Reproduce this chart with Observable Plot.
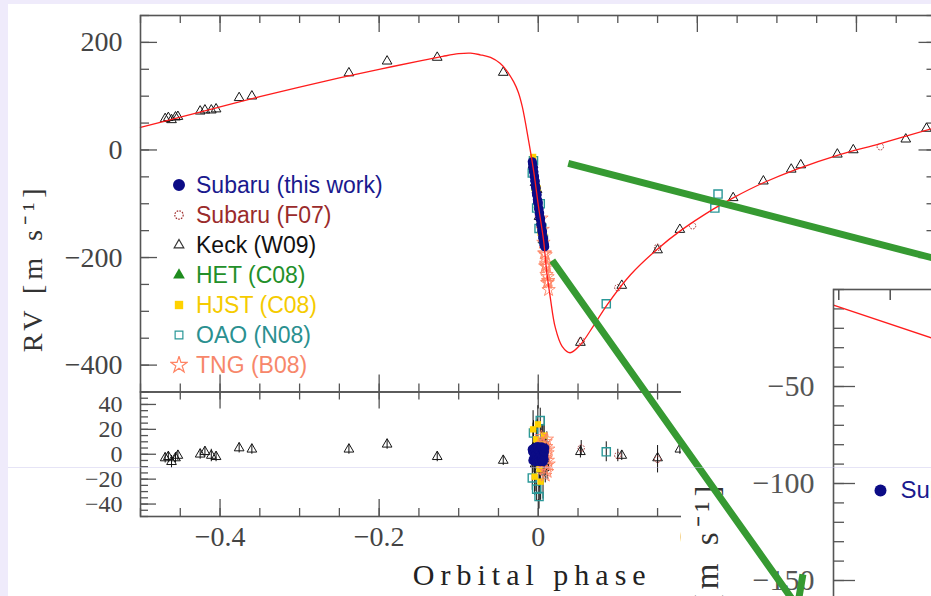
<!DOCTYPE html>
<html><head><meta charset="utf-8">
<script src="https://cdn.jsdelivr.net/npm/d3@7"></script>
<script src="https://cdn.jsdelivr.net/npm/@observablehq/plot@0.6"></script>
<style>
html,body{margin:0;padding:0;background:#efebfb;}
#stage{position:relative;width:931px;height:596px;overflow:hidden;background:#efebfb;}
#paper{position:absolute;left:8px;top:4px;right:0;bottom:0;background:#fff;}
.layer{position:absolute;left:0;top:0;}
#seam{position:absolute;left:8px;right:0;top:467px;height:1px;background:rgba(200,195,235,0.45);}
#legend{position:absolute;left:170px;top:170px;font-family:"Liberation Sans",Arial,sans-serif;font-size:23px;}
.row{height:30px;display:flex;align-items:center;white-space:nowrap;}
.row svg{margin-right:8px;flex:none;}
</style></head><body><div id="stage"><div id="paper"></div></div>
<script>
// ---------- model curve ----------
const modelPhase = [-0.5,-0.45,-0.4,-0.35,-0.3,-0.25,-0.2,-0.15,-0.12,-0.1,-0.085,-0.073,-0.06,-0.048,-0.04,-0.031,-0.025,-0.02,-0.0122,-0.0059,0.0004,0.0067,0.0109,0.0151,0.0214,0.03,0.04,0.053,0.069,0.087,0.116,0.15,0.179,0.22,0.245,0.283,0.326,0.38,0.43,0.5];
const modelRV    = [42,61,80,99,117,134,150,165,174,179,180,177,172,161,148,127,107,80,18,-38,-106,-168,-230,-274,-330,-365,-377,-362,-328,-287,-232,-184,-150,-110,-89,-61,-35,-8,12,42];

// ---------- Keck (W09) ----------
const keckPhase = [-0.469,-0.465,-0.461,-0.456,-0.453,-0.425,-0.419,-0.411,-0.405,-0.376,-0.360,-0.238,-0.190,-0.127,-0.044,-0.0065,-0.004,-0.0015,0.001,0.0035,0.006,0.053,0.105,0.150,0.178,0.245,0.283,0.318,0.330,0.376,0.396,0.462,0.488];
const keckRV    = [58,60,56,61,62,72,74,74,76,97,100,143,165,172,144,-28,-61,-74,-124,-134,-167,-358,-252,-186,-148,-89,-58,-36,-28,-8,0,20,40];
const keckRes   = [-3,-2,-6,-3,-1,0,2,-1,-2,5,4,4,8,-2,-5,5,-8,10,-12,3,-6,2,-1,-3,4,0,2,-1,1,-2,1,0,-1];
const keckErr   = [4,4,5,4,4,4,4,5,4,4,4,4,4,4,4,20,22,18,25,20,30,5,4,4,4,4,4,4,4,4,4,4,4];

// ---------- Subaru (F07) ----------
const f07Phase = [0.054,0.100,0.150,0.194,0.430];
const f07RV    = [-355,-256,-181,-141,6];
const f07Res   = [5,-1,-4,3,-2];
const f07Err   = [6,5,11,6,6];

// ---------- OAO (N08) ----------
const oaoPhase = [-0.0075,-0.0060,-0.0020,0.0010,0.0025,0.0045,0.0065,0.0855,0.222,0.226];
const oaoRV    = [-43,-20,-108,-146,-100,-145,-166,-286,-108,-82];
const oaoRes   = [-19,17,-28,-34,27,2,-4,2,-2,23];
const oaoErr   = [10,10,10,10,10,10,10,8,8,8];

// ---------- HJST (C08) ----------
const hjstPhase = [-0.0065,-0.0045,-0.0025,-0.0005,0.0015,0.0030,0.0050,0.0075];
const hjstRV    = [-13,-71,-63,-72,-129,-154,-143,-161];
const hjstRes   = [20,-18,12,24,-12,-22,8,15];
const hjstErr   = [15,15,15,15,15,15,15,15];

// ---------- HET (C08) ----------
const hetPhase = [-0.0030,0.0000,0.0035,0.0060];
const hetRV    = [-70,-102,-137,-160];
const hetRes   = [-1,0,-1,1];
const hetErr   = [8,8,8,8];

// ---------- TNG (B08) ----------
const tngPhase = [0.0040,0.0055,0.0065,0.0075,0.0085,0.0088,0.0092,0.0096,0.0100,0.0104,0.0108,0.0112,0.0116,0.0120,0.0125,0.0130];
const tngRV    = [-127,-148,-172,-192,-192,-216,-195,-214,-211,-232,-217,-247,-236,-246,-243,-260];
const tngRes   = [14,8,-6,-12,3,-17,10,-3,6,-9,12,-14,1,-5,4,-8];
const tngErr   = [6,6,6,6,6,6,6,6,6,6,6,6,6,6,6,6];

// ---------- Subaru (this work) ----------
const subPhase = [-0.0075,-0.0071,-0.0067,-0.0063,-0.0059,-0.0055,-0.0051,-0.0047,-0.0043,-0.0039,-0.0035,-0.0031,-0.0027,-0.0023,-0.0019,-0.0015,-0.0011,-0.0007,-0.0003,0.0001,0.0005,0.0009,0.0013,0.0017,0.0021,0.0025,0.0029,0.0033,0.0037,0.0041,0.0045,0.0049,0.0053,0.0057,0.0061,0.0065,0.0069,0.0073,0.0077,0.0081];
const subRV    = [-22,-26,-33,-32,-40,-41,-48,-50,-57,-58,-66,-70,-71,-80,-84,-83,-92,-97,-96,-100,-109,-110,-118,-117,-125,-129,-128,-137,-141,-140,-149,-153,-152,-161,-165,-164,-172,-176,-177,-180];
const subRes   = [4,2,-5,3,-4,1,-2,5,-3,4,-6,-1,5,-4,-5,6,-2,-4,4,6,-3,2,-5,3,-2,-6,5,-1,-4,6,-3,-5,4,-2,-6,3,-1,-4,2,5];
const subErr   = [4,4,4,4,4,4,4,4,4,4,4,4,4,4,4,4,4,4,4,4,4,4,4,4,4,4,4,4,4,4,4,4,4,4,4,4,4,4,4,4];

// ---------- inset (zoom on transit) ----------
const insetHour = [-4.05,-3.1];
const insetRV   = [-8,-25];

// ---------- axes / labels ----------
const xMajorTicks = [-0.4,-0.2,0,0.2,0.4];
const xMinorTicks = d3.range(-10,11).map(i=>i*0.05);
const rvMajorTicks = [200,0,-200,-400];
const rvMinorTicks = d3.range(-450,251,50);
const resMajorTicks = [40,20,0,-20,-40];
const resMinorTicks = d3.range(-50,51,5);
const insetXTicks = [-4,-3.5,-3,-2.5,-2];
const insetYMajor = [-50,-100,-150,-200];
const insetYMinor = d3.range(-200,1,10);
const insetYLabels = [-50,-100,-150];
const legendNames  = ["Subaru (this work)","Subaru (F07)","Keck (W09)","HET (C08)","HJST (C08)","OAO (N08)","TNG (B08)"];
const legendColors = ["#1a1a8e","#9a2b2b","#111111","#23902a","#f5cb00","#2a9090","#f7876a"];
// annotation pointers (in main-panel data coordinates)
const pointerA = [{x1:0.0377,y1:-25,x2:0.52,y2:-210}];
const pointerB = [{x1:0.0176,y1:-205.6,x2:0.3258,y2:-849}];

const zip = (p, v, r, e) => p.map((d,i)=>({p:d, v:v[i], r:r[i], e:e[i]}));
const model = modelPhase.map((d,i)=>({p:d, v:modelRV[i]}));
const keck = zip(keckPhase,keckRV,keckRes,keckErr);
const f07 = zip(f07Phase,f07RV,f07Res,f07Err);
const oao = zip(oaoPhase,oaoRV,oaoRes,oaoErr);
const hjst = zip(hjstPhase,hjstRV,hjstRes,hjstErr);
const het = zip(hetPhase,hetRV,hetRes,hetErr);
const tng = zip(tngPhase,tngRV,tngRes,tngErr);
const sub = zip(subPhase,subRV,subRes,subErr);
const inset = insetHour.map((d,i)=>({h:d, v:insetRV[i]}));

const C = {navy:"#0c0c86", brown:"#a03030", black:"#151515", green:"#1e8c1e", gold:"#ffd200", teal:"#2a9898", salmon:"#ff8464", red:"#ff1c1c", axis:"#555"};
const PW = 940, PX0 = 140, PX1 = 935.5;
const FW = PX1 - PX0;

function frameTicks(fw, fh, o) {
  const s = {stroke: C.axis, strokeWidth: 1.3};
  const m = [];
  const X = d=>d, Y = d=>d;
  if (o.top) m.push(Plot.tickX(o.xMinor,{x:X, insetBottom: fh-o.xm, ...s}), Plot.tickX(o.xMajor,{x:X, insetBottom: fh-o.xM, ...s}));
  if (o.bottom) m.push(Plot.tickX(o.xMinor,{x:X, insetTop: fh-o.xm, ...s}), Plot.tickX(o.xMajor,{x:X, insetTop: fh-o.xM, ...s}));
  if (o.left) m.push(Plot.tickY(o.yMinor,{y:Y, insetRight: fw-o.ym, ...s}), Plot.tickY(o.yMajor,{y:Y, insetRight: fw-o.yM, ...s}));
  if (o.right) m.push(Plot.tickY(o.yMinor,{y:Y, insetLeft: fw-o.ym, ...s}), Plot.tickY(o.yMajor,{y:Y, insetLeft: fw-o.yM, ...s}));
  return m;
}
function dotsMain(key) {
  const y = d=>d[key];
  return [
    Plot.dot(keck,{x:"p", y, symbol:"triangle", r:3.6, stroke:C.black, fill:"none", strokeWidth:1}),
    Plot.dot(f07,{x:"p", y, symbol:"circle", r:3.2, stroke:C.brown, fill:"none", strokeWidth:1, strokeDasharray:"1.6,1.2"}),
    Plot.dot(oao,{x:"p", y, symbol:"square", r:4.6, stroke:C.teal, fill:"none", strokeWidth:1.4}),
    Plot.dot(hjst,{x:"p", y, symbol:"square", r:3.6, fill:C.gold}),
    Plot.dot(het,{x:"p", y, symbol:"triangle", r:3.6, fill:C.green}),
    Plot.dot(tng,{x:"p", y, symbol:"star", r:4.2, stroke:C.salmon, fill:"none", strokeWidth:0.9}),
    Plot.dot(sub,{x:"p", y, symbol:"circle", r:4.6, fill:C.navy})
  ];
}
const sty = {background:"transparent", maxWidth:"none", overflow:"visible", fontFamily:"'Liberation Serif', serif"};
const stage = document.getElementById("stage");

// ---------- main RV panel ----------
const mainPlot = Plot.plot({
  width: PW, height: 596, marginLeft: PX0, marginRight: PW-PX1, marginTop: 15, marginBottom: 596-391.5,
  x: {domain: [-0.5,0.5], axis: null},
  y: {domain: [-450,250]},
  style: sty,
  marks: [
    ...frameTicks(FW, 376.5, {top:true, bottom:true, left:true, right:true, xMinor:xMinorTicks, xMajor:xMajorTicks, yMinor:rvMinorTicks, yMajor:rvMajorTicks, xm:8, xM:17, ym:9, yM:17}),
    Plot.axisY({ticks: rvMajorTicks, tickSize: 0, tickPadding: 18, fontSize: 28, color: "#444", label: null}),
    ...dotsMain("v"),
    Plot.line(model,{x:"p", y:"v", stroke:C.red, strokeWidth:1.3, curve:"catmull-rom"}),
    Plot.frame({stroke: C.axis, strokeWidth: 1.6}),
    Plot.text(["RV [m s⁻¹]"], {text:d=>d, frameAnchor:"left", textAnchor:"middle", lineAnchor:"middle", dx:-107, dy:64, rotate:-90, fontSize:28, fill:"#333"})
  ]
});
mainPlot.classList.add("layer");
stage.appendChild(mainPlot);

// ---------- residual panel ----------
const resPlot = Plot.plot({
  width: PW, height: 596, marginLeft: PX0, marginRight: PW-PX1, marginTop: 391.5, marginBottom: 80,
  x: {domain: [-0.5,0.5]},
  y: {domain: [-50,50]},
  style: sty,
  marks: [
    ...frameTicks(FW, 124.5, {top:true, bottom:true, left:true, right:true, xMinor:xMinorTicks, xMajor:xMajorTicks, yMinor:resMinorTicks, yMajor:resMajorTicks, xm:8, xM:17, ym:8, yM:16}),
    Plot.axisY({ticks: resMajorTicks, tickSize: 0, tickPadding: 18, fontSize: 24, color: "#444", label: null}),
    Plot.axisX({ticks: xMajorTicks, tickSize: 0, tickPadding: 10, fontSize: 28, color: "#444", label: null, tickFormat: d => d===0 ? "0" : d3.format(".1f")(d)}),
    ...[keck,f07,oao,hjst,het,tng].map(ds => Plot.ruleX(ds,{x:"p", y1:d=>d.r-d.e, y2:d=>d.r+d.e, stroke:"#111", strokeWidth:1})),
    ...dotsMain("r"),
    Plot.frame({stroke: C.axis, strokeWidth: 1.6}),
    Plot.text(["Orbital phase"], {text:d=>d, frameAnchor:"bottom", lineAnchor:"middle", dx:-6, dy:59, fontSize:30, fill:"#222"})
  ]
});
resPlot.classList.add("layer");
stage.appendChild(resPlot);

// ---------- overlaid inset (white patch) ----------
const insetPlot = Plot.plot({
  width: 400, height: 395, marginLeft: 152, marginRight: 0, marginTop: 7, marginBottom: 0,
  x: {domain: [-4.05,-1.65], axis: null},
  y: {domain: [-200,0]},
  style: {...sty, background:"#fff", position:"absolute", left:"681px", top:"282px"},
  marks: [
    ...frameTicks(248, 388, {top:true, left:true, xMinor:insetXTicks, xMajor:insetXTicks, yMinor:insetYMinor, yMajor:insetYMajor, xm:11, xM:11, ym:11, yM:22}),
    Plot.axisY({ticks: insetYLabels, tickSize: 0, tickPadding: 19, fontSize: 30, color: "#555", label: null}),
    Plot.line(inset,{x:"h", y:"v", stroke:C.red, strokeWidth:1.3}),
    Plot.frame({stroke: C.axis, strokeWidth: 1.6}),
    Plot.dot(["Subaru (this work)"], {frameAnchor:"top-left", dx:47, dy:201, r:6, fill:C.navy}),
    Plot.text(["Subaru (this work)"], {text:d=>d, frameAnchor:"top-left", lineAnchor:"middle", dx:67, dy:201, textAnchor:"start", fontSize:24, fill:"#1a1a8e", fontFamily:"'Liberation Sans', Arial, sans-serif"}),
    Plot.text(["RV [m s⁻¹]"], {text:d=>d, frameAnchor:"top-left", lineAnchor:"middle", dx:-126, dy:191, rotate:-90, textAnchor:"end", fontSize:33, fill:"#333"})
  ]
});
stage.appendChild(insetPlot);

// ---------- green pointer lines ----------
const arrowPlot = Plot.plot({
  width: PW, height: 596, marginLeft: PX0, marginRight: PW-PX1, marginTop: 15, marginBottom: 596-391.5,
  x: {domain: [-0.5,0.5], axis: null},
  y: {domain: [-450,250], axis: null},
  style: sty,
  marks: [
    Plot.arrow(pointerA,{x1:"x1", y1:"y1", x2:"x2", y2:"y2", stroke:"#369a32", strokeWidth:7, headLength:0, strokeLinecap:"butt"}),
    Plot.arrow(pointerB,{x1:"x1", y1:"y1", x2:"x2", y2:"y2", stroke:"#369a32", strokeWidth:7, headLength:7, headAngle:90, strokeLinecap:"butt"})
  ]
});
arrowPlot.classList.add("layer");
stage.appendChild(arrowPlot);

// letter spacing for the serif axis titles
[mainPlot, resPlot, insetPlot].forEach(svg => {
  d3.select(svg).selectAll("text").filter(function(){ return this.textContent.startsWith("RV [") || this.textContent.startsWith("Orbital"); })
    .style("letter-spacing", function(){ return this.textContent.startsWith("Orbital") ? "6px" : "5px"; });
});

// ---------- legend ----------
const legendSymbols = [
  {type:d3.symbolCircle, size:113, fill:"#0c0c86", stroke:"none"},
  {type:d3.symbolCircle, size:55, fill:"none", stroke:"#a03030", dash:"1.6,1.2"},
  {type:d3.symbolTriangle, size:40, fill:"none", stroke:"#333"},
  {type:d3.symbolTriangle, size:60, fill:"#1e8c1e", stroke:"none"},
  {type:d3.symbolSquare, size:70, fill:"#ffd200", stroke:"none"},
  {type:d3.symbolSquare, size:60, fill:"none", stroke:"#2a9898"},
  {type:d3.symbolStar, size:85, fill:"none", stroke:"#ff8464"}
];
const legend = d3.select(stage).append("div").attr("id","legend");
legendNames.forEach((name,i) => {
  const row = legend.append("div").attr("class","row");
  const s = legendSymbols[i];
  const svg = row.append("svg").attr("width",18).attr("height",18);
  svg.append("path").attr("transform","translate(9,9)").attr("d", d3.symbol(s.type, s.size)())
    .attr("fill", s.fill).attr("stroke", s.stroke).attr("stroke-width", 1.2).attr("stroke-dasharray", s.dash || null);
  row.append("span").text(name).style("color", legendColors[i]);
});
d3.select(stage).append("div").attr("id","seam");
</script></body></html>
